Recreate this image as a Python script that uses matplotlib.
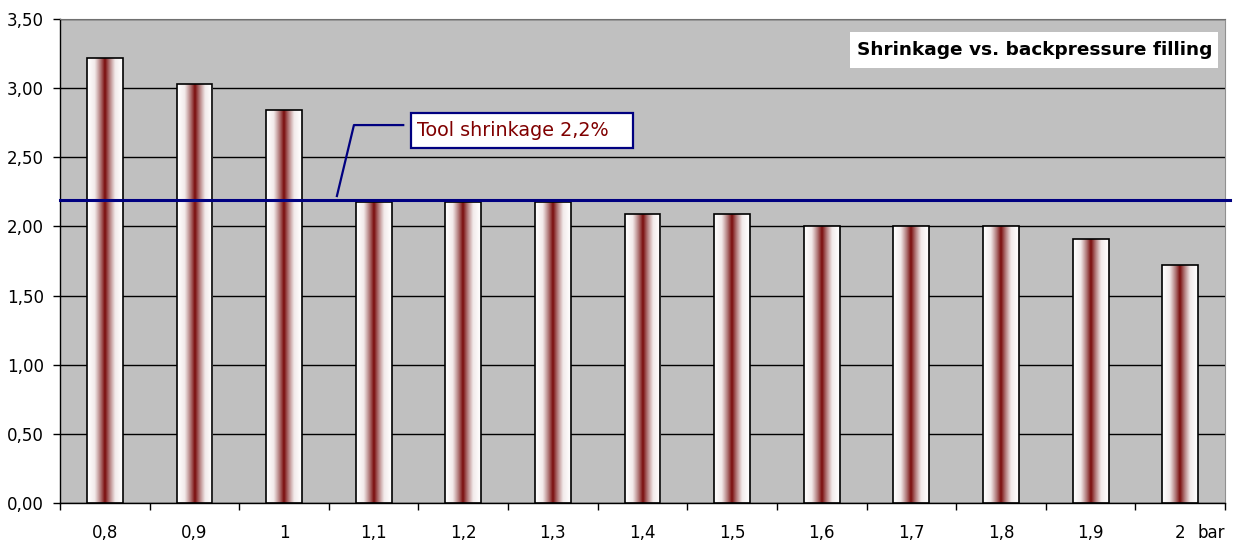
import numpy as np
import matplotlib
matplotlib.use("Agg")
import matplotlib.pyplot as plt
from matplotlib.colors import LinearSegmentedColormap
from matplotlib.ticker import FuncFormatter, MultipleLocator
from matplotlib.patches import Rectangle

categories = ["0,8", "0,9", "1", "1,1", "1,2", "1,3", "1,4", "1,5", "1,6", "1,7", "1,8", "1,9", "2"]
shrinkage = [3.22, 3.03, 2.84, 2.18, 2.18, 2.18, 2.09, 2.09, 2.00, 2.00, 2.00, 1.91, 1.72]
tool_shrinkage = 2.19
title_text = "Shrinkage vs. backpressure filling"
annot_text = "Tool shrinkage 2,2%"
unit_text = "bar"

plt.rcParams['font.family'] = ['DejaVu Sans']

fig = plt.figure(figsize=(12.36, 5.44), dpi=100)
ax = fig.add_axes([60/1236, 41/544, 1165/1236, 484/544])
ax.set_facecolor("#c0c0c0")

x = np.arange(len(categories))
bars = ax.bar(x, shrinkage, width=0.4, facecolor="none", edgecolor="black", linewidth=1.2, zorder=3)

cmap = LinearSegmentedColormap.from_list("g", ["#ffffff", "#f2eaea", "#b58080", "#7a0c0c"])
prof = (1 - np.abs(np.linspace(-1, 1, 200))) ** 1.3
grad = prof[np.newaxis, :]
for p in bars:
    x0, y0 = p.get_x(), p.get_y()
    w, h = p.get_width(), p.get_height()
    im = ax.imshow(grad, cmap=cmap, vmin=0, vmax=1, extent=(x0, x0 + w, y0, y0 + h),
                   aspect="auto", interpolation="bilinear", zorder=2)
    im.set_clip_path(p)

ax.set_xlim(-0.5, len(categories) - 0.5)
ax.set_ylim(0, 3.5)
ax.yaxis.set_major_locator(MultipleLocator(0.5))
ax.yaxis.set_major_formatter(FuncFormatter(lambda v, pos: f"{v:.2f}".replace(".", ",")))
ax.grid(axis="y", color="black", linewidth=1.0, zorder=1)
ax.set_axisbelow(True)

ax.set_xticks(x)
ax.set_xticklabels(categories)
ax.set_xticks(np.arange(-0.5, len(categories), 1.0), minor=True)
ax.tick_params(axis="x", which="major", length=0, pad=15.2, labelsize=12)
ax.tick_params(axis="x", which="minor", length=5, width=1, direction="out")
ax.tick_params(axis="y", length=5, width=1, direction="out", pad=6.5, labelsize=12)

for s in ["left", "bottom"]:
    ax.spines[s].set_color("black")
    ax.spines[s].set_linewidth(1)
ax.spines["top"].set_color("#707070")
ax.spines["right"].set_color("#909090")

# reference line
ax.plot([0, 1.004], [tool_shrinkage, tool_shrinkage], transform=ax.get_yaxis_transform(),
        color="#000080", linewidth=2.2, clip_on=False, zorder=4)

# annotation: leader line, box, text
ax.plot([3.33, 2.78, 2.59], [2.733, 2.733, 2.22], color="#000080", lw=1.6, zorder=5)
ax.add_patch(Rectangle((3.417, 2.567), 2.478, 0.253, fc="white", ec="#000080", lw=1.6, zorder=5))
ax.text(3.48, 2.695, annot_text, color="#800000", fontsize=13.8, va="center", ha="left", zorder=6)

# title box
ax.add_patch(Rectangle((0.678, 0.899), 0.316, 0.0735, transform=ax.transAxes,
                       fc="white", ec="none", zorder=5))
ax.text(0.989, 0.935, title_text, transform=ax.transAxes, ha="right", va="center",
        fontsize=13.3, fontweight="bold", color="black", zorder=6)

ax.text(1.0, -0.063, unit_text, transform=ax.transAxes, ha="right", va="center", fontsize=12)

fig.savefig("out.png", dpi=100)
